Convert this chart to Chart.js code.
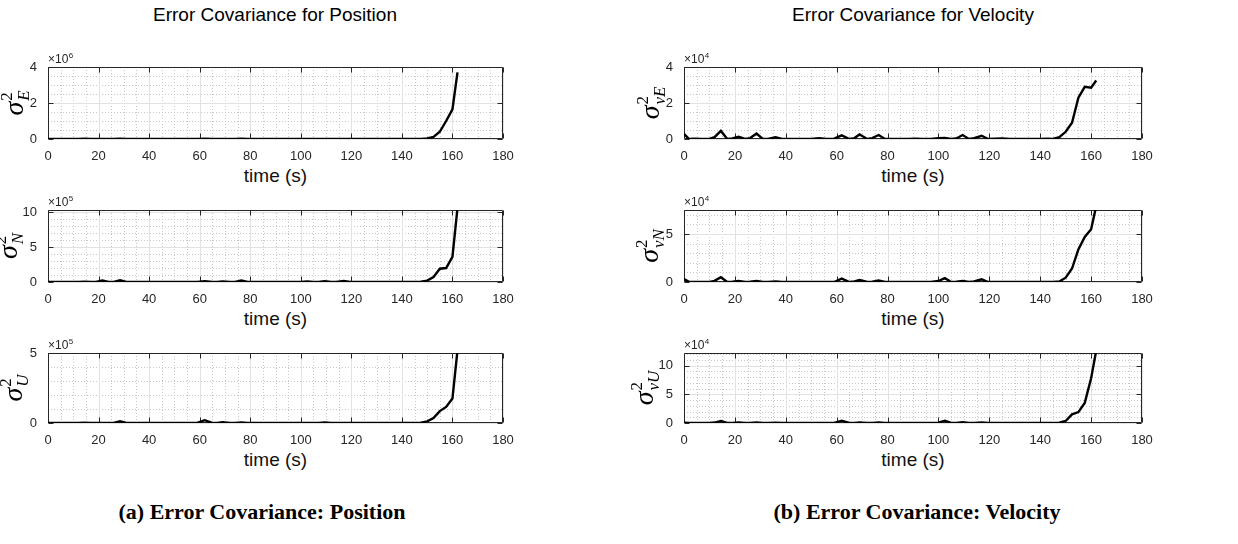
<!DOCTYPE html>
<html lang="en">
<head>
<meta charset="UTF-8">
<title>Error Covariance</title>
<script src="https://cdn.jsdelivr.net/npm/chart.js"></script>
<style>
    body { margin: 0; width: 1238px; height: 544px; background: #fff; position: relative; overflow: hidden;
           font-family: "Liberation Sans", Arial, sans-serif; }
    .painel { position: absolute; }
    .txt { position: absolute; color: #000; text-align: center; white-space: nowrap; transform: translate(-50%, -50%); }
    .titulo { font-size: 19px; }
    .eixo { font-size: 19px; color: #111; }
    .legenda { font-family: "Liberation Serif", "Times New Roman", serif; font-weight: bold; font-size: 22px; }
</style>
</head>
<body>

<div class="txt titulo" style="left:275px; top:15px">Error Covariance for Position</div>
<div class="txt titulo" style="left:913px; top:15px">Error Covariance for Velocity</div>

<div class="txt legenda" style="left:262px; top:512px">(a) Error Covariance: Position</div>
<div class="txt legenda" style="left:917px; top:512px">(b) Error Covariance: Velocity</div>

<script>
// time stamps (s)
const tempo = [0, 2, 4, 7, 10, 12, 14.5, 17, 19, 21.5, 24, 26, 28.5, 31, 33, 36, 38.5, 41, 44, 47,
               50, 53, 56, 59, 62, 65, 67, 69, 72, 74, 76.5, 79, 82, 85, 88, 91, 94, 97, 100, 102.5,
               105, 107, 109.5, 112, 114, 117, 119.5, 122, 125, 128, 131, 134, 137, 140, 143, 145,
               147.5, 150, 152.5, 155, 157.5, 160, 162];

// position covariance (E in 1e6, N and U in 1e5)
const posE = [0, 0, 0, 0, 0, 0, 0.01, 0, 0, 0, 0, 0, 0.015, 0, 0, 0, 0, 0, 0, 0,
              0, 0, 0, 0, 0.01, 0, 0, 0, 0, 0, 0.01, 0, 0, 0, 0, 0, 0, 0, 0, 0,
              0, 0, 0, 0, 0, 0, 0, 0, 0, 0, 0, 0, 0, 0, 0, 0,
              0.005, 0.03, 0.12, 0.4, 1.0, 1.65, 3.7];
const posN = [0, 0, 0, 0, 0, 0, 0.06, 0, 0, 0.2, 0, 0, 0.25, 0, 0, 0, 0, 0, 0, 0,
              0, 0, 0, 0, 0.1, 0, 0, 0.08, 0, 0, 0.22, 0, 0, 0, 0, 0, 0, 0, 0, 0.08,
              0, 0, 0.1, 0, 0, 0.15, 0, 0, 0, 0, 0, 0, 0, 0, 0, 0,
              0.05, 0.2, 0.7, 1.9, 2.0, 3.6, 10.6];
const posU = [0, 0, 0, 0, 0, 0, 0.03, 0, 0, 0, 0, 0, 0.12, 0, 0, 0, 0, 0, 0, 0,
              0, 0, 0, 0, 0.2, 0, 0, 0.05, 0, 0, 0.04, 0, 0, 0, 0, 0, 0, 0, 0, 0,
              0, 0, 0.04, 0, 0, 0, 0, 0, 0, 0, 0, 0, 0, 0, 0, 0,
              0.03, 0.12, 0.35, 0.85, 1.15, 1.75, 5.2];

// velocity covariance (all in 1e4)
const velE = [0.28, 0, 0.02, 0, 0, 0.1, 0.45, 0, 0.03, 0.12, 0, 0.05, 0.3, 0, 0, 0.1, 0, 0, 0, 0,
              0, 0.04, 0, 0.02, 0.2, 0, 0.05, 0.25, 0, 0.05, 0.22, 0, 0, 0, 0, 0.02, 0, 0, 0.04, 0.06,
              0, 0.03, 0.22, 0, 0.05, 0.18, 0, 0.02, 0.03, 0, 0, 0, 0, 0, 0.02, 0,
              0.1, 0.4, 0.9, 2.3, 2.9, 2.85, 3.25];
const velN = [0.3, 0.02, 0, 0, 0, 0.12, 0.5, 0, 0.03, 0.12, 0, 0.03, 0.12, 0, 0, 0.06, 0, 0, 0, 0,
              0, 0, 0, 0, 0.35, 0, 0.05, 0.2, 0, 0.04, 0.15, 0, 0, 0, 0, 0, 0, 0, 0.1, 0.4,
              0, 0.03, 0.1, 0, 0.05, 0.28, 0, 0, 0, 0, 0, 0, 0, 0, 0, 0,
              0.05, 0.45, 1.4, 3.4, 4.7, 5.5, 7.9];
const velU = [0.05, 0.02, 0, 0, 0, 0.08, 0.35, 0, 0.02, 0.1, 0, 0.02, 0.1, 0, 0, 0.05, 0, 0, 0, 0,
              0, 0, 0, 0, 0.4, 0, 0.03, 0.1, 0, 0.03, 0.1, 0, 0, 0, 0, 0, 0, 0, 0.05, 0.4,
              0, 0.03, 0.15, 0, 0.03, 0.1, 0, 0, 0, 0, 0, 0, 0, 0, 0, 0,
              0.05, 0.35, 1.5, 1.9, 3.5, 7.8, 12.6];

// tick labels
const xTicks = [0, 20, 40, 60, 80, 100, 120, 140, 160, 180];
const yTicks2 = [0, 2, 4];
const yTicks5 = [0, 5, 10];

// um painel por subplot
const paineis = [
    { dados: posE, sub: 'E',  exp: '6', left: 48,  top: 67,  w: 455, h: 72, ymax: 4,    ticks: yTicks2, minor: 0.5, lab: 25 },
    { dados: posN, sub: 'N',  exp: '5', left: 48,  top: 210, w: 455, h: 72, ymax: 10.3, ticks: yTicks5, minor: 1,   lab: 31 },
    { dados: posU, sub: 'U',  exp: '5', left: 48,  top: 353, w: 455, h: 70, ymax: 5,    ticks: yTicks5, minor: 1,   lab: 26 },
    { dados: velE, sub: 'vE', exp: '4', left: 684, top: 67,  w: 458, h: 72, ymax: 4,    ticks: yTicks2, minor: 0.5, lab: 25 },
    { dados: velN, sub: 'vN', exp: '4', left: 684, top: 210, w: 458, h: 72, ymax: 7.5,  ticks: yTicks5, minor: 1,   lab: 26 },
    { dados: velU, sub: 'vU', exp: '4', left: 684, top: 353, w: 458, h: 70, ymax: 12.2, ticks: yTicks5, minor: 1,   lab: 31 }
];

const ESQ = 62, TOPO = 22, DIR = 25, BAIXO = 22;

// grade estilo matlab, caixa, ticks para dentro, rótulo e expoente
const matlabPlugin = {
    id: 'matlab',
    beforeDatasetsDraw(chart, args, o) {
        const { ctx, chartArea: a, scales: { x, y } } = chart;
        ctx.save();
        ctx.lineWidth = 1;

        // grade menor pontilhada
        ctx.strokeStyle = '#c8c8c8';
        ctx.setLineDash([1, 2]);
        ctx.beginPath();
        for (let v = 5; v < 180; v += 5) {
            if (v % 20 === 0) continue;
            const px = Math.round(x.getPixelForValue(v)) + 0.5;
            ctx.moveTo(px, a.top); ctx.lineTo(px, a.bottom);
        }
        for (let k = 1; k * o.minor < o.ymax; k++) {
            const v = k * o.minor;
            if (o.ticks.includes(v)) continue;
            const py = Math.round(y.getPixelForValue(v)) + 0.5;
            ctx.moveTo(a.left, py); ctx.lineTo(a.right, py);
        }
        ctx.stroke();

        // grade principal
        ctx.setLineDash([]);
        ctx.strokeStyle = '#e2e2e2';
        ctx.beginPath();
        xTicks.forEach(v => {
            const px = Math.round(x.getPixelForValue(v)) + 0.5;
            ctx.moveTo(px, a.top); ctx.lineTo(px, a.bottom);
        });
        o.ticks.forEach(v => {
            const py = Math.round(y.getPixelForValue(v)) + 0.5;
            ctx.moveTo(a.left, py); ctx.lineTo(a.right, py);
        });
        ctx.stroke();

        // caixa + ticks
        ctx.strokeStyle = '#262626';
        ctx.beginPath();
        const L = Math.round(a.left) + 0.5, R = Math.round(a.right) - 0.5;
        const T = Math.round(a.top) + 0.5, B = Math.round(a.bottom) - 0.5;
        ctx.rect(L, T, R - L, B - T);
        xTicks.forEach(v => {
            const px = Math.round(x.getPixelForValue(v)) + 0.5;
            ctx.moveTo(px, B); ctx.lineTo(px, B - 5);
            ctx.moveTo(px, T); ctx.lineTo(px, T + 5);
        });
        o.ticks.forEach(v => {
            const py = Math.round(y.getPixelForValue(v)) + 0.5;
            ctx.moveTo(L, py); ctx.lineTo(L + 5, py);
            ctx.moveTo(R, py); ctx.lineTo(R - 5, py);
        });
        ctx.stroke();
        ctx.restore();
    },
    afterDraw(chart, args, o) {
        const { ctx, chartArea: a } = chart;
        ctx.save();
        ctx.fillStyle = '#262626';
        ctx.textBaseline = 'alphabetic';
        ctx.textAlign = 'left';
        // x10^n
        ctx.font = '12px "Liberation Sans", Arial';
        ctx.fillText('\u00d710', a.left, a.top - 4);
        const w10 = ctx.measureText('\u00d710').width;
        ctx.font = '8px "Liberation Sans", Arial';
        ctx.fillText(o.exp, a.left + w10 + 0.5, a.top - 9);

        // sigma^2_sub rotacionado
        ctx.fillStyle = '#000';
        const cy = (a.top + a.bottom) / 2;
        ctx.translate(a.left - o.lab, cy);
        ctx.rotate(-Math.PI / 2);
        const fBig = 'italic 28px "Liberation Serif", serif';
        const fSup = '17px "Liberation Serif", serif';
        const fSub = 'italic 17px "Liberation Serif", serif';
        ctx.font = fBig; const ws = ctx.measureText('\u03c3').width;
        ctx.font = fSup; const w2 = ctx.measureText('2').width;
        ctx.font = fSub; const wb = ctx.measureText(o.sub).width;
        const total = ws + 1 + Math.max(w2, wb);
        const x0 = -total / 2;
        ctx.font = fBig; ctx.fillText('\u03c3', x0, 0);
        ctx.font = fSup; ctx.fillText('2', x0 + ws + 1, -11);
        ctx.font = fSub; ctx.fillText(o.sub, x0 + ws + 1, 6);
        ctx.restore();
    }
};

paineis.forEach((p, i) => {
    const div = document.createElement('div');
    div.className = 'painel';
    const cw = p.w + ESQ + DIR, ch = p.h + TOPO + BAIXO;
    div.style.left = (p.left - ESQ) + 'px';
    div.style.top = (p.top - TOPO) + 'px';
    div.style.width = cw + 'px';
    div.style.height = ch + 'px';
    const canvas = document.createElement('canvas');
    canvas.width = cw; canvas.height = ch;
    canvas.id = 'grafico' + i;
    div.appendChild(canvas);
    document.body.appendChild(div);

    // rótulo "time (s)"
    const t = document.createElement('div');
    t.className = 'txt eixo';
    t.style.left = (p.left + p.w / 2) + 'px';
    t.style.top = (p.top + p.h + 37) + 'px';
    t.textContent = 'time (s)';
    document.body.appendChild(t);

    const pontos = tempo.map((tt, k) => ({ x: tt, y: p.dados[k] }));

    new Chart(canvas, {
        type: 'line',
        data: {
            datasets: [{
                data: pontos,
                borderColor: '#000',
                borderWidth: 2.4,
                pointRadius: 0,
                tension: 0,
                fill: false
            }]
        },
        options: {
            responsive: false,
            animation: false,
            devicePixelRatio: 1,
            layout: { padding: { top: TOPO, right: DIR, left: 0, bottom: 0 } },
            plugins: {
                legend: { display: false },
                tooltip: { enabled: false },
                matlab: { sub: p.sub, exp: p.exp, ymax: p.ymax, ticks: p.ticks, minor: p.minor, lab: p.lab }
            },
            scales: {
                x: {
                    type: 'linear', min: 0, max: 180,
                    grid: { display: false }, border: { display: false },
                    afterBuildTicks: s => { s.ticks = xTicks.map(v => ({ value: v })); },
                    afterFit: s => { s.height = BAIXO; },
                    ticks: { color: '#262626', padding: 2, maxRotation: 0, autoSkip: false,
                             font: { family: '"Liberation Sans", Arial', size: 13 } }
                },
                y: {
                    min: 0, max: p.ymax,
                    grid: { display: false }, border: { display: false },
                    afterBuildTicks: s => { s.ticks = p.ticks.filter(v => v <= p.ymax).map(v => ({ value: v })); },
                    afterFit: s => { s.width = ESQ; },
                    ticks: { color: '#262626', padding: 3,
                             font: { family: '"Liberation Sans", Arial', size: 13 } }
                }
            }
        },
        plugins: [matlabPlugin]
    });
});
</script>
</body>
</html>
